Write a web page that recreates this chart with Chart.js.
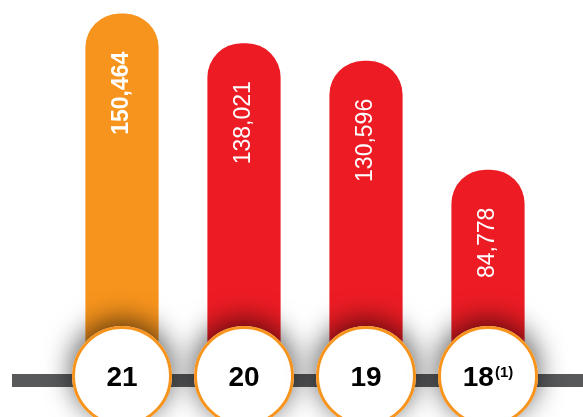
<!DOCTYPE html>
<html>
<head>
<meta charset="utf-8">
<script src="https://cdn.jsdelivr.net/npm/chart.js@4"></script>
<style>
  html, body { margin: 0; padding: 0; background: #fff; }
  #wrap { width: 583px; height: 417px; position: relative; }
</style>
</head>
<body>
<div id="wrap"><canvas id="barChart"></canvas></div>
<script>
const years = ['21', '20', '19', '18'];
const yearNotes = ['', '', '', '(1)'];
const values = [150464, 138021, 130596, 84778];
const barColors = ['#F7941D', '#ED1C24', '#ED1C24', '#ED1C24'];
const boldLabel = [true, false, false, false];

// value text rotated inside the top of each bar
const valueLabels = {
    id: 'valueLabels',
    afterDatasetsDraw(chart) {
        const ctx = chart.ctx;
        const meta = chart.getDatasetMeta(0);
        meta.data.forEach((bar, i) => {
            ctx.save();
            ctx.translate(bar.x, bar.y + 38);
            ctx.rotate(-Math.PI / 2);
            ctx.fillStyle = '#fff';
            ctx.font = (boldLabel[i] ? 'bold ' : '') + '23px "Liberation Sans", Arial, sans-serif';
            ctx.textAlign = 'right';
            ctx.textBaseline = 'middle';
            ctx.fillText(values[i].toLocaleString('en-US'), 0, 0);
            ctx.restore();
        });
    }
};

// gray base line and the year badges
const yearBadges = {
    id: 'yearBadges',
    afterDraw(chart) {
        const ctx = chart.ctx;
        const xScale = chart.scales.x;
        const cy = 376;
        const r = 50;

        ctx.save();
        ctx.fillStyle = '#58595B';
        ctx.fillRect(12, 374, chart.width - 12, 13);

        years.forEach((yr, i) => {
            const cx = xScale.getPixelForValue(i);
            ctx.save();
            ctx.shadowColor = 'rgba(0,0,0,0.65)';
            ctx.shadowBlur = 28;
            ctx.shadowOffsetY = -6;
            ctx.beginPath();
            ctx.arc(cx, cy, r, 0, Math.PI * 2);
            ctx.fillStyle = '#fff';
            ctx.fill();
            ctx.restore();

            ctx.beginPath();
            ctx.arc(cx, cy, r - 1.5, 0, Math.PI * 2);
            ctx.lineWidth = 3;
            ctx.strokeStyle = '#F7941D';
            ctx.stroke();

            ctx.fillStyle = '#000';
            ctx.textBaseline = 'alphabetic';
            ctx.font = 'bold 28px "Liberation Sans", Arial, sans-serif';
            const w1 = ctx.measureText(yr).width;
            let w2 = 0;
            if (yearNotes[i]) {
                ctx.font = 'bold 15px "Liberation Sans", Arial, sans-serif';
                w2 = ctx.measureText(yearNotes[i]).width + 1;
            }
            const startX = cx - (w1 + w2) / 2;
            ctx.font = 'bold 28px "Liberation Sans", Arial, sans-serif';
            ctx.textAlign = 'left';
            ctx.fillText(yr, startX, 386);
            if (yearNotes[i]) {
                ctx.font = 'bold 15px "Liberation Sans", Arial, sans-serif';
                ctx.fillText(yearNotes[i], startX + w1 + 1, 377);
            }
        });
        ctx.restore();
    }
};

new Chart(document.getElementById('barChart'), {
    type: 'bar',
    data: {
        labels: years,
        datasets: [{
            data: values,
            backgroundColor: barColors,
            borderWidth: 0,
            borderRadius: { topLeft: 34, topRight: 34, bottomLeft: 0, bottomRight: 0 },
            borderSkipped: 'bottom',
            barPercentage: 0.6,
            categoryPercentage: 1.0
        }]
    },
    options: {
        responsive: true,
        maintainAspectRatio: false,
        animation: false,
        layout: { padding: { top: 0, bottom: 46, left: 61, right: 34 } },
        plugins: {
            legend: { display: false },
            tooltip: { enabled: false }
        },
        scales: {
            x: { display: false },
            y: { display: false, min: 0, max: 156200 }
        }
    },
    plugins: [valueLabels, yearBadges]
});
</script>
</body>
</html>
